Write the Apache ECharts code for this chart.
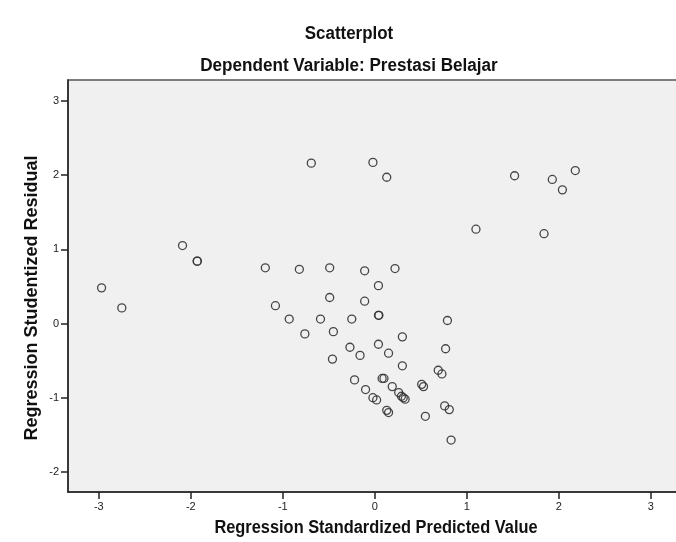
<!DOCTYPE html>
<html>
<head>
<meta charset="utf-8">
<script src="https://cdn.jsdelivr.net/npm/echarts@6/dist/echarts.min.js"></script>
<style>
html,body{margin:0;padding:0;background:#fff;}
#chart{width:676px;height:542px;}
</style>
</head>
<body>
<div id="chart"></div>
<script>
const chartTitle = "Scatterplot";
const chartSubtitle = "Dependent Variable: Prestasi Belajar";
const xAxisTitle = "Regression Standardized Predicted Value";
const yAxisTitle = "Regression Studentized Residual";
const xTicks = [-3, -2, -1, 0, 1, 2, 3];
const yTicks = [-2, -1, 0, 1, 2, 3];
const predicted = [
  -2.97, -2.75, -2.09, -1.93, -1.93, -1.19, -1.08, -0.93, -0.82, -0.76,
  -0.69, -0.59, -0.49, -0.49, -0.45, -0.46, -0.27, -0.25, -0.22, -0.16,
  -0.11, -0.11, -0.10, -0.02, -0.02, 0.02, 0.04, 0.04, 0.045, 0.04,
  0.08, 0.10, 0.13, 0.13, 0.15, 0.15, 0.19, 0.22, 0.26, 0.29,
  0.31, 0.33, 0.30, 0.30, 0.51, 0.53, 0.55, 0.69, 0.73, 0.76,
  0.77, 0.79, 0.81, 0.83, 1.10, 1.52, 1.84, 1.93, 2.04, 2.18
];
const residual = [
  0.48, 0.21, 1.05, 0.84, 0.84, 0.75, 0.24, 0.06, 0.73, -0.14,
  2.16, 0.06, 0.75, 0.35, -0.11, -0.48, -0.32, 0.06, -0.76, -0.43,
  0.71, 0.30, -0.89, 2.17, -1.00, -1.03, 0.51, 0.11, 0.11, -0.28,
  -0.74, -0.74, 1.97, -1.17, -1.20, -0.40, -0.85, 0.74, -0.93, -0.98,
  -1.00, -1.02, -0.18, -0.57, -0.82, -0.85, -1.25, -0.63, -0.68, -1.11,
  -0.34, 0.04, -1.16, -1.57, 1.27, 1.99, 1.21, 1.94, 1.80, 2.06
];
const points = predicted.map((x, i) => [x, residual[i]]);

const font = "'Liberation Sans', Arial, sans-serif";
const chart = echarts.init(document.getElementById('chart'));
chart.setOption({
  animation: false,
  backgroundColor: '#ffffff',
  grid: {
    left: 68, top: 80, width: 614, height: 412,
    outerBoundsMode: 'none', containLabel: false,
    show: true, backgroundColor: '#f0f0f0', borderColor: '#555', borderWidth: 1.5
  },
  graphic: [
    { type: 'text', x: 349, y: 34, scaleX: 0.94, style: { text: chartTitle, font: "bold 18px " + font, fill: '#111', align: 'center', verticalAlign: 'middle' } },
    { type: 'text', x: 349, y: 66, scaleX: 0.95, style: { text: chartSubtitle, font: "bold 18px " + font, fill: '#111', align: 'center', verticalAlign: 'middle' } },
    { type: 'text', x: 376, y: 528, scaleX: 0.91, style: { text: xAxisTitle, font: "bold 18px " + font, fill: '#111', align: 'center', verticalAlign: 'middle' } },
    { type: 'text', x: 32, y: 298, rotation: Math.PI / 2, scaleX: 1.0, style: { text: yAxisTitle, font: "bold 18px " + font, fill: '#111', align: 'center', verticalAlign: 'middle' } }
  ],
  xAxis: {
    type: 'value', min: -3.335, max: 3.34,
    axisLine: { show: true, onZero: false, lineStyle: { color: '#222', width: 1.5 } },
    axisTick: { show: true, length: 7, customValues: xTicks, lineStyle: { color: '#222', width: 1.5 } },
    axisLabel: { customValues: xTicks, color: '#222', fontSize: 11, fontFamily: font, margin: 9 },
    splitLine: { show: false }
  },
  yAxis: {
    type: 'value', min: -2.27, max: 3.28,
    axisLine: { show: true, onZero: false, lineStyle: { color: '#222', width: 1.5 } },
    axisTick: { show: true, length: 7, customValues: yTicks, lineStyle: { color: '#222', width: 1.5 } },
    axisLabel: { customValues: yTicks, color: '#222', fontSize: 11, fontFamily: font, margin: 9 },
    splitLine: { show: false }
  },
  series: [{
    type: 'scatter',
    data: points,
    symbol: 'circle',
    symbolSize: 8,
    itemStyle: { color: 'rgba(0,0,0,0)', borderColor: '#333', borderWidth: 1.3, opacity: 0.9 }
  }]
});
</script>
</body>
</html>
